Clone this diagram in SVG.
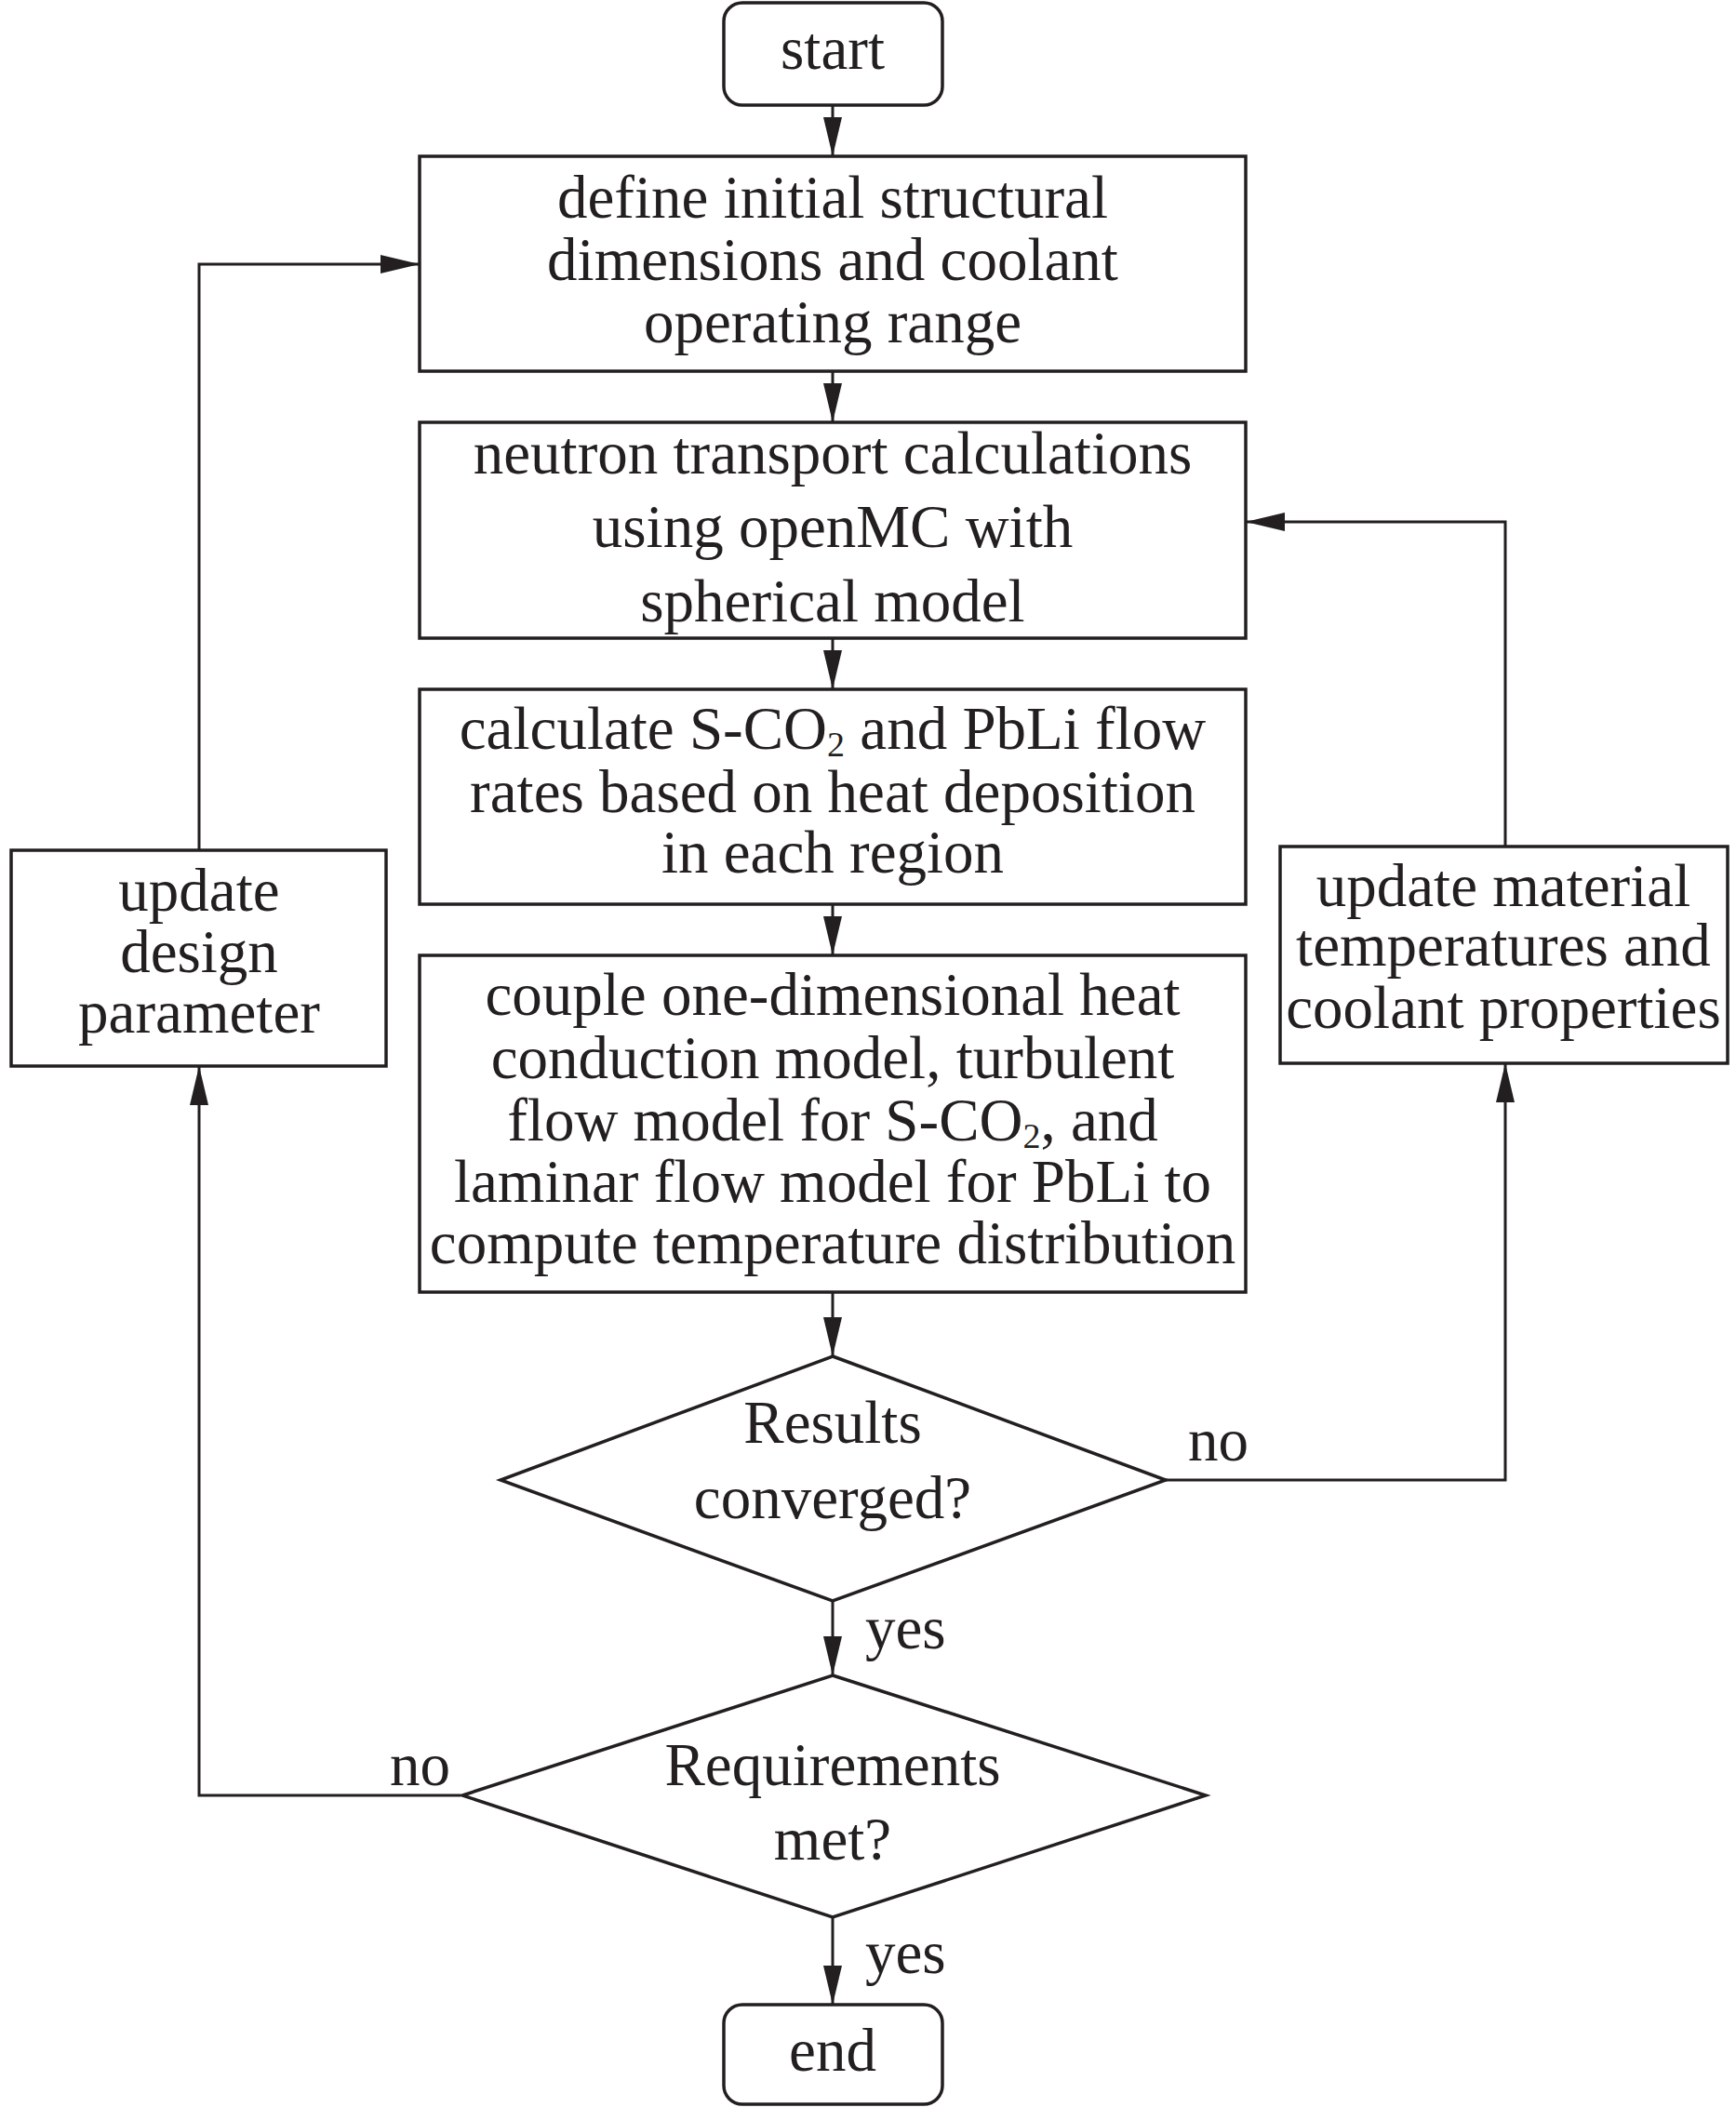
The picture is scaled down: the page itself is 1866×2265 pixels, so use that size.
<svg xmlns="http://www.w3.org/2000/svg" width="1866" height="2265" viewBox="0 0 1866 2265">
<style>
.box{fill:#fff;stroke:#231f20;stroke-width:3.5}
.ln{fill:none;stroke:#231f20;stroke-width:3}
text{font-family:"Liberation Serif","Times New Roman",serif;font-size:65px;fill:#231f20;text-anchor:middle}
.lbl{text-anchor:start}
.sub{font-size:38px}
</style>
<defs>
<marker id="ah" markerUnits="userSpaceOnUse" markerWidth="44" markerHeight="22" refX="42" refY="10" orient="auto">
<path d="M0,0 L42,10 L0,20 Z" fill="#231f20"/>
</marker>
</defs>
<g id="connectors">
<line class="ln" x1="895" y1="113" x2="895" y2="168" marker-end="url(#ah)"/>
<line class="ln" x1="895" y1="399" x2="895" y2="454" marker-end="url(#ah)"/>
<line class="ln" x1="895" y1="686" x2="895" y2="741" marker-end="url(#ah)"/>
<line class="ln" x1="895" y1="972" x2="895" y2="1027" marker-end="url(#ah)"/>
<line class="ln" x1="895" y1="1389" x2="895" y2="1458" marker-end="url(#ah)"/>
<line class="ln" x1="895" y1="1721" x2="895" y2="1801" marker-end="url(#ah)"/>
<line class="ln" x1="895" y1="2061" x2="895" y2="2155" marker-end="url(#ah)"/>
<polyline class="ln" points="1253,1591 1618,1591 1618,1143" marker-end="url(#ah)"/>
<polyline class="ln" points="1618,910 1618,561 1339,561" marker-end="url(#ah)"/>
<polyline class="ln" points="495,1930 214,1930 214,1146" marker-end="url(#ah)"/>
<polyline class="ln" points="214,914 214,284 451,284" marker-end="url(#ah)"/>
<text class="lbl" x="1277" y="1570">no</text>
<text class="lbl" x="930" y="1772">yes</text>
<text class="lbl" x="930" y="2121">yes</text>
<text class="lbl" x="419" y="1919">no</text>
</g>
<g id="start">
<rect class="box" x="778" y="3" width="235" height="110" rx="20"/>
<text x="895" y="74">start</text>
</g>
<g id="define">
<rect class="box" x="451" y="168" width="888" height="231"/>
<text x="895" y="234">define initial structural</text>
<text x="895" y="301">dimensions and coolant</text>
<text x="895" y="368">operating range</text>
</g>
<g id="neutron">
<rect class="box" x="451" y="454" width="888" height="232"/>
<text x="895" y="509">neutron transport calculations</text>
<text x="895" y="588">using openMC with</text>
<text x="895" y="668">spherical model</text>
</g>
<g id="calculate">
<rect class="box" x="451" y="741" width="888" height="231"/>
<text x="895" y="805">calculate S-CO<tspan class="sub" dy="8">2</tspan><tspan dy="-8"> and PbLi flow</tspan></text>
<text x="895" y="873">rates based on heat deposition</text>
<text x="895" y="938">in each region</text>
</g>
<g id="couple">
<rect class="box" x="451" y="1027" width="888" height="362"/>
<text x="895" y="1091">couple one-dimensional heat</text>
<text x="895" y="1159">conduction model, turbulent</text>
<text x="895" y="1226">flow model for S-CO<tspan class="sub" dy="8">2</tspan><tspan dy="-8">, and</tspan></text>
<text x="895" y="1292">laminar flow model for PbLi to</text>
<text x="895" y="1358">compute temperature distribution</text>
</g>
<g id="converged">
<polygon class="box" points="895,1458 1253,1591 895,1721 538,1591"/>
<text x="895" y="1551">Results</text>
<text x="895" y="1632">converged?</text>
</g>
<g id="requirements">
<polygon class="box" points="895,1801 1296,1930 895,2061 497,1930"/>
<text x="895" y="1919">Requirements</text>
<text x="895" y="1999">met?</text>
</g>
<g id="end">
<rect class="box" x="778" y="2155" width="235" height="107" rx="20"/>
<text x="895" y="2226">end</text>
</g>
<g id="update-design">
<rect class="box" x="12" y="914" width="403" height="232"/>
<text x="214" y="979">update</text>
<text x="214" y="1045">design</text>
<text x="214" y="1110">parameter</text>
</g>
<g id="update-material">
<rect class="box" x="1376" y="910" width="481" height="233"/>
<text x="1616" y="974">update material</text>
<text x="1616" y="1038">temperatures and</text>
<text x="1616" y="1105">coolant properties</text>
</g>
</svg>
